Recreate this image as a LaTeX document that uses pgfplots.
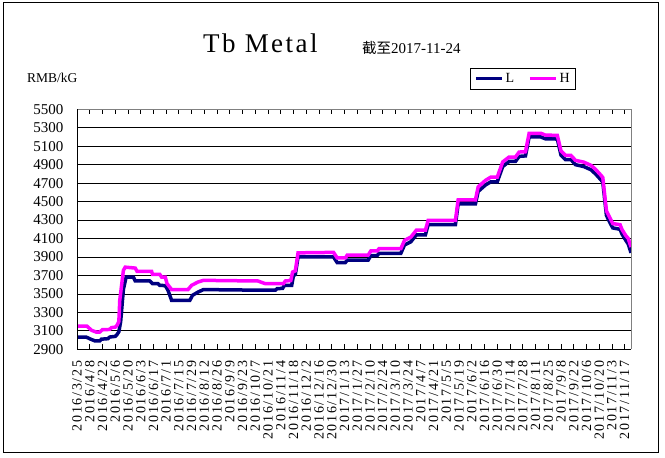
\documentclass[border=0pt]{standalone}
\usepackage{fontspec}
\setmainfont{Liberation Serif}
\newfontfamily\cjk{Noto Sans CJK SC}
\newfontfamily\titlefont[LetterSpace=9]{Liberation Serif}
\newfontfamily\xlabfont[LetterSpace=12]{Liberation Serif}
\usepackage{pgfplots}
\pgfplotsset{compat=1.18}
\definecolor{lnavy}{RGB}{0,0,128}
\definecolor{hmag}{RGB}{255,0,255}
\begin{document}
\begin{tikzpicture}
\useasboundingbox (0,0) rectangle (665bp,-458bp);
\draw[line width=1bp] (3bp,-2bp) rectangle (658bp,-452bp);
\node[anchor=base west, inner sep=0] at (203bp,-52bp) {\titlefont\fontsize{27bp}{30bp}\selectfont Tb Metal};
\node[anchor=base west, inner sep=0] at (362bp,-53bp) {{\cjk\fontsize{14.5bp}{16bp}\selectfont 截至}\fontsize{15bp}{16bp}\selectfont 2017-11-24};
\node[anchor=base west, inner sep=0] at (27bp,-82bp) {\fontsize{13.5bp}{15bp}\selectfont RMB/kG};
\begin{axis}[
  scale only axis,
  width=554bp, height=240bp,
  at={(77bp,-349.3bp)}, anchor=south west,
  xmin=0, xmax=609, ymin=2900, ymax=5500,
  axis line style={draw=none},
  ytick={2900,3100,...,5500},
  ymajorgrids, grid style={black, line width=0.8bp},
  ytick style={draw=none},
  yticklabel style={font=\fontsize{15bp}{16bp}\selectfont, xshift=-10bp},
  /pgf/number format/assume math mode=true,
  /pgf/number format/1000 sep={},
  xtick={0,14,...,602},
  xticklabels={2016/3/25,2016/4/8,2016/4/22,2016/5/6,2016/5/20,2016/6/3,2016/6/17,2016/7/1,2016/7/15,2016/7/29,2016/8/12,2016/8/26,2016/9/9,2016/9/23,2016/10/7,2016/10/21,2016/11/4,2016/11/18,2016/12/2,2016/12/16,2016/12/30,2017/1/13,2017/1/27,2017/2/10,2017/2/24,2017/3/10,2017/3/24,2017/4/7,2017/4/21,2017/5/5,2017/5/19,2017/6/2,2017/6/16,2017/6/30,2017/7/14,2017/7/28,2017/8/11,2017/8/25,2017/9/8,2017/9/22,2017/10/6,2017/10/20,2017/11/3,2017/11/17},
  xticklabel style={yshift=-8bp, rotate=90, anchor=east, font=\xlabfont\fontsize{14bp}{15bp}\selectfont},
  xtick align=inside,
  xtick style={black, line width=0.8bp},
  major tick length=5bp,
  legend style={at={(0.709,1.172)}, anchor=north west, draw=black, line width=0.8bp,
    legend columns=2, font=\fontsize{14bp}{15bp}\selectfont, inner xsep=4bp, inner ysep=3bp,
    /tikz/every even column/.append style={column sep=12bp}},
  legend image code/.code={\draw[#1] (0bp,0bp)--(26bp,0bp);},
  after end axis/.code={
    \draw[gray, line width=0.8bp] (rel axis cs:0,1) -- (rel axis cs:1,1) -- (rel axis cs:1,0);
    \draw[black, line width=0.8bp] (rel axis cs:0,1) -- (rel axis cs:0,0) -- (rel axis cs:1,0);
  },
]
\addplot[lnavy, line width=3.5bp] coordinates {
(0,3033)(10,3033)(15,3010)(20,2990)(25,2990)(27,3010)(34,3015)(36,3033)(42,3040)(44,3060)(46,3090)(48,3200)(51,3550)(54,3683)(62,3683)(64,3640)(80,3640)(83,3611)(89,3611)(91,3593)(97,3590)(100,3540)(104,3430)(124,3430)(127,3485)(133,3520)(139,3547)(205,3540)(218,3540)(220,3557)(226,3560)(228,3593)(236,3593)(238,3700)(240,3710)(243,3900)
(282,3900)(286,3840)(295,3840)(297,3865)(320,3865)(323,3915)(330,3915)(332,3940)(356,3940)(360,4030)(367,4065)(373,4140)(383,4140)(386,4250)(416,4250)(419,4475)(438,4475)(441,4610)(449,4680)(455,4715)(462,4715)(468,4880)(475,4935)(482,4935)(486,4990)(493,4995)(497,5200)(510,5200)(515,5180)(528,5178)(532,5005)(537,4955)(543,4955)(548,4900)(557,4880)(565,4845)(570,4800)(576,4735)(578,4710)(582,4350)(587,4250)(589,4215)(597,4200)(599,4150)(603,4085)(606,4040)(609,3945)
};
\addlegendentry{L}
\addplot[hmag, line width=3.5bp] coordinates {
(0,3150)(11,3150)(16,3106)(21,3087)(25,3087)(28,3113)(36,3115)(38,3135)(42,3140)(44,3160)(46,3200)(47,3430)(51,3755)(53,3790)(64,3780)(66,3745)(82,3745)(83,3712)(91,3712)(93,3683)(97,3683)(99,3611)(104,3547)(122,3547)(126,3593)(133,3629)(139,3647)(199,3640)(203,3625)(207,3611)(227,3611)(229,3640)(235,3645)(237,3737)(240,3750)(243,3945)
(282,3950)(286,3890)(295,3890)(297,3920)(320,3920)(323,3965)(330,3965)(332,3990)(356,3990)(360,4080)(367,4116)(373,4190)(383,4190)(386,4297)(416,4297)(419,4520)(438,4520)(441,4660)(449,4730)(455,4766)(462,4766)(468,4930)(475,4983)(482,4983)(486,5037)(493,5040)(497,5240)(510,5240)(515,5220)(528,5218)(532,5050)(537,5000)(543,5000)(548,4947)(557,4928)(565,4893)(570,4850)(576,4785)(578,4760)(582,4400)(587,4300)(589,4262)(597,4250)(599,4200)(603,4135)(606,4100)(609,4008)
};
\addlegendentry{H}
\end{axis}
\end{tikzpicture}
\end{document}
